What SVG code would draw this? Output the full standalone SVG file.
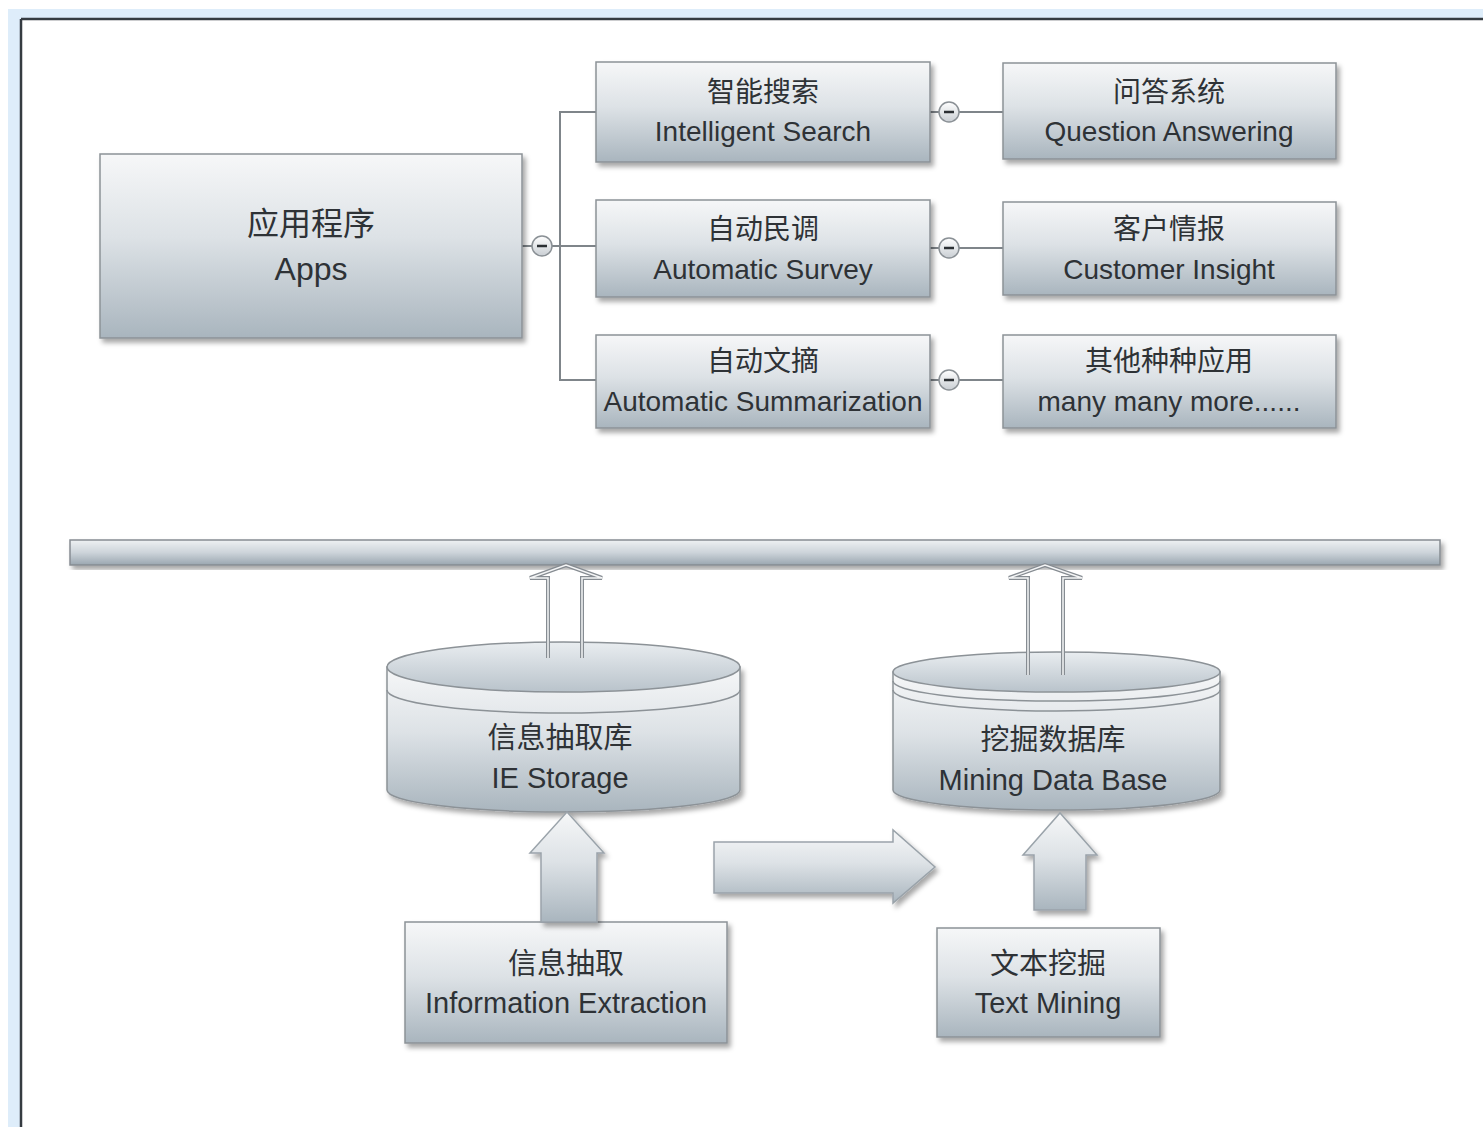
<svg xmlns="http://www.w3.org/2000/svg" width="1483" height="1127" viewBox="0 0 1483 1127">
  <defs>
    <linearGradient id="boxFill" x1="0" y1="0" x2="0" y2="1">
      <stop offset="0" stop-color="#f6f7f8"/>
      <stop offset="0.45" stop-color="#dde2e6"/>
      <stop offset="1" stop-color="#a9b5be"/>
    </linearGradient>
    <linearGradient id="barFill" x1="0" y1="0" x2="0" y2="1">
      <stop offset="0" stop-color="#eef1f3"/>
      <stop offset="0.5" stop-color="#cdd4da"/>
      <stop offset="1" stop-color="#9aa6b0"/>
    </linearGradient>
    <linearGradient id="lidFill" x1="0" y1="0" x2="0" y2="1">
      <stop offset="0" stop-color="#e9edf0"/>
      <stop offset="1" stop-color="#b9c3cb"/>
    </linearGradient>
    <linearGradient id="btnFill" x1="0" y1="0" x2="0" y2="1">
      <stop offset="0" stop-color="#ffffff"/>
      <stop offset="1" stop-color="#c9ced3"/>
    </linearGradient>
    <filter id="shadow" x="-10%" y="-10%" width="125%" height="130%">
      <feDropShadow dx="3" dy="4" stdDeviation="2.5" flood-color="#000" flood-opacity="0.35"/>
    </filter>
    <style>
      .box { fill: url(#boxFill); stroke: #8c9297; stroke-width: 1.5; }
      .cn { font-family: "Liberation Sans", "Noto Sans CJK SC", sans-serif; fill: #2e3236; text-anchor: middle; }
      .en { font-family: "Liberation Sans", "Noto Sans CJK SC", sans-serif; fill: #2e3236; text-anchor: middle; }
      .t28 { font-size: 28px; }
      .t29 { font-size: 29px; }
      .t32 { font-size: 32px; }
      .link { stroke: #7f858a; stroke-width: 2; fill: none; }
      .btn { fill: url(#btnFill); stroke: #8a9095; stroke-width: 1.5; }
      .minus { stroke: #2b2f33; stroke-width: 2.5; }
      .hollow-out { fill: none; stroke: #868c92; stroke-width: 4; stroke-linejoin: miter; }
      .hollow-in { fill: none; stroke: #f4f5f6; stroke-width: 1.5; stroke-linejoin: miter; }
      .block { fill: url(#boxFill); stroke: #9aa3aa; stroke-width: 1.5; }
      .cyl { fill: url(#boxFill); stroke: #8c9297; stroke-width: 1.5; }
      .lid { fill: url(#lidFill); stroke: #8c9297; stroke-width: 1.5; }
      .band { fill: none; stroke: #8c9297; stroke-width: 1.5; }
    </style>
  </defs>

  <!-- window frame -->
  <rect x="0" y="0" width="1483" height="1127" fill="#ffffff"/>
  <rect x="8" y="9" width="1475" height="10" fill="#deedfa"/>
  <rect x="8" y="9" width="13" height="1118" fill="#deedfa"/>
  <line x1="21" y1="19" x2="1483" y2="19" stroke="#353b41" stroke-width="2.5"/>
  <line x1="21" y1="19" x2="21" y2="1127" stroke="#353b41" stroke-width="2.5"/>

  <!-- tree connectors -->
  <g id="connectors">
    <line class="link" x1="522" y1="246" x2="532" y2="246"/>
    <line class="link" x1="552" y1="246" x2="596" y2="246"/>
    <polyline class="link" points="596,112 560,112 560,380 596,380"/>
    <line class="link" x1="930" y1="112" x2="939" y2="112"/>
    <line class="link" x1="959" y1="112" x2="1003" y2="112"/>
    <line class="link" x1="930" y1="248" x2="939" y2="248"/>
    <line class="link" x1="959" y1="248" x2="1003" y2="248"/>
    <line class="link" x1="930" y1="380" x2="939" y2="380"/>
    <line class="link" x1="959" y1="380" x2="1003" y2="380"/>
    <g id="toggle-apps"><circle class="btn" cx="542" cy="246" r="10"/><line class="minus" x1="537" y1="246" x2="547" y2="246"/></g>
    <g id="toggle-search"><circle class="btn" cx="949" cy="112" r="10"/><line class="minus" x1="944" y1="112" x2="954" y2="112"/></g>
    <g id="toggle-survey"><circle class="btn" cx="949" cy="248" r="10"/><line class="minus" x1="944" y1="248" x2="954" y2="248"/></g>
    <g id="toggle-summary"><circle class="btn" cx="949" cy="380" r="10"/><line class="minus" x1="944" y1="380" x2="954" y2="380"/></g>
  </g>

  <!-- top: applications -->
  <g id="apps">
    <rect class="box" x="100" y="154" width="422" height="184" filter="url(#shadow)"/>
    <text class="cn t32" x="311" y="235">应用程序</text>
    <text class="en t32" x="311" y="280">Apps</text>
  </g>
  <g id="intelligent-search">
    <rect class="box" x="596" y="62" width="334" height="100" filter="url(#shadow)"/>
    <text class="cn t28" x="763" y="102">智能搜索</text>
    <text class="en t28" x="763" y="141">Intelligent Search</text>
  </g>
  <g id="automatic-survey">
    <rect class="box" x="596" y="200" width="334" height="97" filter="url(#shadow)"/>
    <text class="cn t28" x="763" y="239">自动民调</text>
    <text class="en t28" x="763" y="279">Automatic Survey</text>
  </g>
  <g id="automatic-summarization">
    <rect class="box" x="596" y="335" width="334" height="93" filter="url(#shadow)"/>
    <text class="cn t28" x="763" y="371">自动文摘</text>
    <text class="en t28" x="763" y="411">Automatic Summarization</text>
  </g>
  <g id="question-answering">
    <rect class="box" x="1003" y="63" width="333" height="96" filter="url(#shadow)"/>
    <text class="cn t28" x="1169" y="102">问答系统</text>
    <text class="en t28" x="1169" y="141">Question Answering</text>
  </g>
  <g id="customer-insight">
    <rect class="box" x="1003" y="202" width="333" height="93" filter="url(#shadow)"/>
    <text class="cn t28" x="1169" y="239">客户情报</text>
    <text class="en t28" x="1169" y="279">Customer Insight</text>
  </g>
  <g id="many-more">
    <rect class="box" x="1003" y="335" width="333" height="93" filter="url(#shadow)"/>
    <text class="cn t28" x="1169" y="371">其他种种应用</text>
    <text class="en t28" x="1169" y="411">many many more......</text>
  </g>

  <!-- platform bar -->
  <g id="platform-bar">
    <rect x="70" y="540" width="1370" height="25" fill="url(#barFill)" stroke="#868c92" stroke-width="1.5" filter="url(#shadow)"/>
  </g>

  <!-- storage cylinders -->
  <g id="ie-storage">
    <path class="cyl" d="M387,667 L387,790 A176.5,22 0 0 0 740,790 L740,667 Z" filter="url(#shadow)"/>
    <path class="band" d="M387,690 A176.5,23 0 0 0 740,690"/>
    <ellipse class="lid" cx="563.5" cy="667" rx="176.5" ry="25"/>
    <text class="cn t29" x="560" y="748">信息抽取库</text>
    <text class="en t29" x="560" y="788">IE Storage</text>
  </g>
  <g id="mining-db">
    <path class="cyl" d="M893,672 L893,790 A163.5,20 0 0 0 1220,790 L1220,672 Z" filter="url(#shadow)"/>
    <path class="band" d="M893,681 A163.5,20 0 0 0 1220,681"/>
    <path class="band" d="M893,690 A163.5,21 0 0 0 1220,690"/>
    <ellipse class="lid" cx="1056.5" cy="672" rx="163.5" ry="20"/>
    <text class="cn t29" x="1053" y="750">挖掘数据库</text>
    <text class="en t29" x="1053" y="790">Mining Data Base</text>
  </g>

  <!-- bottom: processes -->
  <g id="information-extraction">
    <rect class="box" x="405" y="922" width="322" height="121" filter="url(#shadow)"/>
    <text class="cn t29" x="566" y="974">信息抽取</text>
    <text class="en t29" x="566" y="1013">Information Extraction</text>
  </g>
  <g id="text-mining">
    <rect class="box" x="937" y="928" width="223" height="109" filter="url(#shadow)"/>
    <text class="cn t29" x="1048" y="974">文本挖掘</text>
    <text class="en t29" x="1048" y="1013">Text Mining</text>
  </g>

  <!-- flow arrows -->
  <g id="flow-arrows">
    <path class="hollow-out" d="M548,658 L548,578 L530,578 L566,565 L602,578 L582,578 L582,658"/>
    <path class="hollow-in" d="M548,658 L548,578 L530,578 L566,565 L602,578 L582,578 L582,658"/>
    <path class="hollow-out" d="M1028,675 L1028,578 L1009,578 L1045,565 L1082,578 L1063,578 L1063,675"/>
    <path class="hollow-in" d="M1028,675 L1028,578 L1009,578 L1045,565 L1082,578 L1063,578 L1063,675"/>
    <path class="block" d="M541,922 L541,853 L530,853 L567,812 L604,853 L597,853 L597,922 Z" filter="url(#shadow)"/>
    <path class="block" d="M1034,910 L1034,855 L1023,855 L1060,813 L1097,855 L1086,855 L1086,910 Z" filter="url(#shadow)"/>
    <path class="block" d="M714,842 L893,842 L893,830 L935,867 L893,903 L893,893 L714,893 Z" filter="url(#shadow)"/>
  </g>
</svg>
